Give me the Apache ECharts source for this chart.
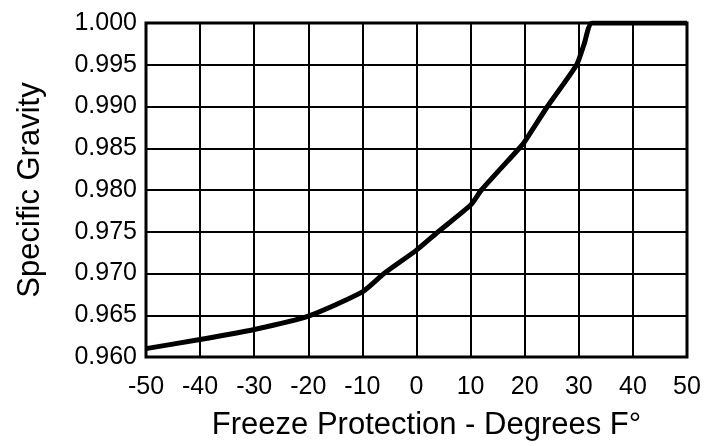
<!DOCTYPE html>
<html>
<head>
<meta charset="utf-8">
<script src="https://cdn.jsdelivr.net/npm/echarts@6/dist/echarts.min.js"></script>
<style>
  html, body { margin: 0; padding: 0; background: #ffffff; }
  #chart { width: 712px; height: 446px; }
</style>
</head>
<body>
<div id="chart"></div>
<script>
// Data
const tempF = [-50, -40, -30, -20, -10, -6, 0, 4, 10, 12, 19, 20, 24.2, 29.6, 31, 32.5, 50];
const specificGravity = [0.9610, 0.9621, 0.9633, 0.9649, 0.9678, 0.9700, 0.9728, 0.9750, 0.9782, 0.9800, 0.9850, 0.9858, 0.9900, 0.9950, 0.9975, 1.0000, 1.0000];
const xAxisRange = [-50, 50];
const yAxisRange = [0.960, 1.000];
const xTitle = 'Freeze Protection - Degrees F°';
const yTitle = 'Specific Gravity';

const points = tempF.map((t, i) => [t, specificGravity[i]]);
const font = '"Liberation Sans", Arial, Helvetica, sans-serif';

const chart = echarts.init(document.getElementById('chart'), null, { renderer: 'canvas' });
chart.setOption({
  animation: false,
  backgroundColor: '#ffffff',
  grid: { left: 146, right: 25, top: 23, bottom: 84, show: true, borderColor: '#000', borderWidth: 3 },
  xAxis: {
    type: 'value',
    min: xAxisRange[0], max: xAxisRange[1], interval: 10,
    name: xTitle,
    nameLocation: 'middle',
    nameGap: 53,
    nameTextStyle: { fontFamily: font, fontSize: 31, color: '#000', padding: [0, 0, 0, 20] },
    axisLine: { show: false },
    axisTick: { show: false },
    axisLabel: { fontFamily: font, fontSize: 25, color: '#000', margin: 18 },
    splitLine: { show: true, lineStyle: { color: '#000', width: 2 } }
  },
  yAxis: {
    type: 'value',
    min: yAxisRange[0], max: yAxisRange[1], interval: 0.005,
    name: yTitle,
    nameLocation: 'middle',
    nameGap: 100,
    nameTextStyle: { fontFamily: font, fontSize: 31, color: '#000' },
    axisLine: { show: false },
    axisTick: { show: false },
    axisLabel: { fontFamily: font, fontSize: 25, color: '#000', margin: 9,
      formatter: v => v.toFixed(3) },
    splitLine: { show: true, lineStyle: { color: '#000', width: 2 } }
  },
  series: [{
    type: 'line',
    data: points,
    smooth: 0.2,
    showSymbol: false,
    clip: true,
    lineStyle: { color: '#000', width: 5 }
  }]
});
</script>
</body>
</html>
